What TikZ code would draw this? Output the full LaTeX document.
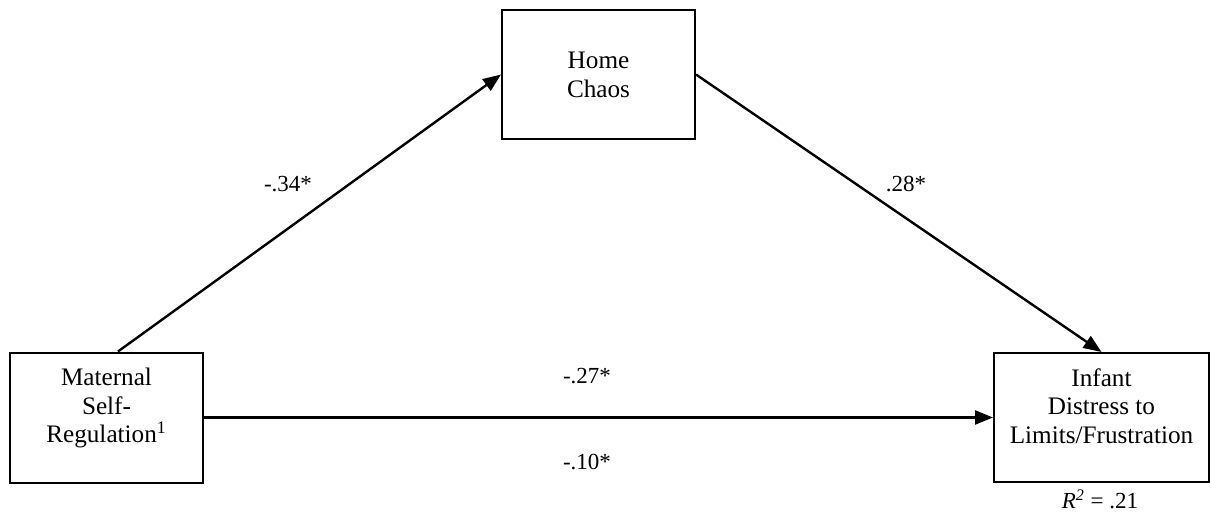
\documentclass[tikz,border=0pt]{standalone}
\usepackage{fontspec}
\setmainfont{Liberation Serif}
\usetikzlibrary{arrows.meta,calc}
\tikzset{
  box/.style={draw, line width=1pt, inner sep=0pt, minimum width=#1},
  box/.default=96.5pt,
  boxtext/.style={align=center, inner sep=0pt, font=\fontsize{12.6}{14.2}\selectfont},
  coef/.style={inner sep=0pt, font=\fontsize{11.5}{13}\selectfont},
  path/.style={line width=1.2pt, -{Triangle[length=9pt,width=7pt]}}
}
\begin{document}
\begin{tikzpicture}[x=0.5pt,y=-0.5pt]
\useasboundingbox (0,0) rectangle (1211,514);
\node[box, minimum height=65pt] (lm) at (106.5,417.5) {};
\node[box, minimum height=64.5pt] (hc) at (598.5,74.5) {};
\node[box=107.5pt, minimum height=64.5pt] (rb) at (1101.5,417.5) {};
\node[boxtext] (lmt) at (106.5,408) {Maternal\\Self-\\Regulation\textsuperscript{1}};
\node[boxtext] (hct) at (598.5,75) {Home\\Chaos};
\node[boxtext] (rbt) at (1101.5,406) {Infant\\Distress to\\Limits/Frustration};
\draw[path] ([xshift=5.75pt]lm.north) -- (hc.west);
\draw[path] (hc.east) -- (rb.north);
\draw[path] (lm.east) -- (rb.west);
\node[coef] (c1) at (288,184) {-.34*};
\node[coef] (c2) at (906,184) {.28*};
\node[coef] (c3) at (587,376) {-.27*};
\node[coef] (c4) at (587,462) {-.10*};
\node[coef, anchor=north] (r2) at (1100,489) {\textit{R}\textsuperscript{\textit{2}} = .21};
\end{tikzpicture}
\end{document}
